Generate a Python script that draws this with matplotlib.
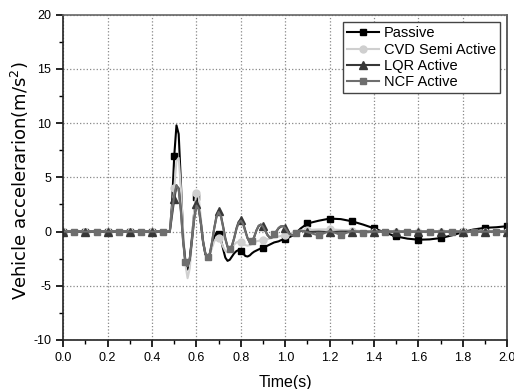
import numpy as np
import matplotlib
matplotlib.use('Agg')
import matplotlib.pyplot as plt
from matplotlib.ticker import MultipleLocator

plt.rcParams['font.family'] = ['Liberation Sans', 'DejaVu Sans']
plt.rcParams['axes.unicode_minus'] = False

# time grid: coarse before the bump, fine through the oscillation, coarse after
t_pre = [0.0, 0.05, 0.1, 0.15, 0.2, 0.25, 0.3, 0.35, 0.4, 0.45]
t_mid = [round(0.48 + 0.01 * i, 2) for i in range(63)]
t_post = [1.15, 1.2, 1.25, 1.3, 1.35, 1.4, 1.45, 1.5, 1.55, 1.6,
          1.65, 1.7, 1.75, 1.8, 1.85, 1.9, 1.95, 2.0]
time = np.array(t_pre + t_mid + t_post)

zeros_pre = [0, 0, 0, 0, 0, 0, 0, 0, 0, 0]

passive_mid = [0, 2.5, 7.0, 9.8, 9.0, 4.5, -0.5, -3.0, -3.5, -2.5,
               -0.5, 1.8, 3.2, 2.6, 0.8, -1.0, -2.1, -2.4, -2.1, -1.3,
               -0.5, -0.1, -0.2, -0.7, -1.6, -2.4, -2.7, -2.6, -2.3, -2.0,
               -1.8, -1.7, -1.75, -2.0, -2.25, -2.3, -2.2, -2.0, -1.85, -1.75,
               -1.65, -1.55, -1.5, -1.4, -1.3, -1.2, -1.1, -1.0, -0.95, -0.9,
               -0.8, -0.75, -0.7, -0.6, -0.5, -0.4, -0.25, -0.1, 0.1, 0.3,
               0.45, 0.6, 0.75]
passive_post = [1.0, 1.2, 1.15, 0.95, 0.65, 0.3, -0.1, -0.45, -0.65, -0.75,
                -0.72, -0.6, -0.35, -0.05, 0.2, 0.35, 0.4, 0.5]

cvd_mid = [0, 2.0, 4.0, 6.5, 6.8, 4.0, 0.0, -3.0, -4.3, -3.4,
           -0.8, 2.0, 3.6, 3.2, 1.2, -0.8, -2.0, -2.3, -2.1, -1.5,
           -0.9, -0.6, -0.6, -0.9, -1.4, -1.8, -1.9, -1.8, -1.5, -1.2,
           -1.0, -0.95, -1.0, -1.15, -1.25, -1.3, -1.25, -1.15, -1.0, -0.9,
           -0.85, -0.8, -0.8, -0.75, -0.7, -0.65, -0.6, -0.55, -0.5, -0.45,
           -0.4, -0.35, -0.3, -0.25, -0.2, -0.12, -0.05, 0.0, 0.05, 0.1,
           0.12, 0.15, 0.15]
cvd_post = [0.2, 0.2, 0.15, 0.1, 0.05, 0.0, 0.0, 0.0, 0.0, 0.0,
            0.0, 0.0, 0.0, 0.0, 0.0, 0.0, 0.0, 0.0]

lqr_mid = [0, 1.5, 3.0, 4.2, 4.0, 2.0, -0.8, -2.6, -3.2, -2.6,
           -0.8, 1.2, 2.5, 2.2, 0.8, -0.9, -2.0, -2.4, -2.1, -1.0,
           0.3, 1.4, 1.9, 1.5, 0.5, -0.6, -1.4, -1.6, -1.3, -0.6,
           0.3, 0.9, 1.1, 0.8, 0.1, -0.6, -1.0, -0.9, -0.5, 0.1,
           0.5, 0.65, 0.5, 0.1, -0.3, -0.55, -0.55, -0.3, 0.0, 0.3,
           0.45, 0.5, 0.35, 0.1, -0.2, -0.35, -0.35, -0.2, -0.05, 0.05,
           0.05, 0.0, -0.05]
lqr_post = [0.0, -0.05, 0.0, 0.0, 0.0, 0.0, 0.0, 0.0, 0.0, 0.0,
            0.0, 0.0, 0.0, 0.0, 0.0, 0.0, 0.0, 0.0]

ncf_mid = [0, 1.8, 3.4, 4.3, 3.9, 1.8, -1.0, -2.8, -3.2, -2.5,
           -0.7, 1.2, 2.4, 2.1, 0.7, -1.0, -2.0, -2.3, -2.0, -1.0,
           0.3, 1.3, 1.8, 1.4, 0.4, -0.7, -1.4, -1.6, -1.3, -0.6,
           0.2, 0.8, 1.0, 0.7, 0.0, -0.6, -1.0, -0.9, -0.5, 0.1,
           0.55, 0.65, 0.45, 0.05, -0.35, -0.55, -0.5, -0.25, 0.05, 0.35,
           0.5, 0.5, 0.3, 0.0, -0.25, -0.35, -0.3, -0.1, 0.05, 0.1,
           0.05, 0.0, -0.05]
ncf_post = [-0.35, 0.05, -0.3, 0.05, -0.1, 0.0, 0.0, 0.0, 0.0, 0.0,
            0.0, 0.0, 0.0, 0.0, 0.0, 0.0, 0.0, 0.0]

passive = np.array(zeros_pre + passive_mid + passive_post)
cvd = np.array(zeros_pre + cvd_mid + cvd_post)
lqr = np.array(zeros_pre + lqr_mid + lqr_post)
ncf = np.array(zeros_pre + ncf_mid + ncf_post)

# marker times
mark_a = [round(0.1 * k, 2) for k in range(21)]
mark_b = [round(0.05 + 0.1 * k, 2) for k in range(20)]


def idx(times):
    return [int(np.argmin(np.abs(time - m))) for m in times]


fig = plt.figure(figsize=(5.14, 3.89), dpi=100)
ax = fig.add_axes([0.123, 0.126, 0.864, 0.836])

ax.plot(time, passive, color='black', lw=1.5, marker='s', ms=5,
        markevery=idx(mark_a), label='Passive')
ax.plot(time, cvd, color='#cfcfcf', lw=1.5, marker='o', ms=5,
        markevery=idx(mark_a), label='CVD Semi Active')
ax.plot(time, lqr, color='#383838', lw=1.5, marker='^', ms=5.5,
        markevery=idx(mark_a), label='LQR Active')
ax.plot(time, ncf, color='#6e6e6e', lw=1.5, marker='s', ms=5,
        markevery=idx(mark_b), label='NCF Active')

ax.set_xlim(0, 2.0)
ax.set_ylim(-10, 20)
ax.xaxis.set_major_locator(MultipleLocator(0.2))
ax.xaxis.set_minor_locator(MultipleLocator(0.1))
ax.yaxis.set_major_locator(MultipleLocator(5))
ax.yaxis.set_minor_locator(MultipleLocator(2.5))
ax.xaxis.set_major_formatter(plt.FormatStrFormatter('%.1f'))
ax.tick_params(which='both', direction='out', labelsize=9, top=False, right=False)
ax.tick_params(which='major', length=5, width=1.2)
ax.tick_params(which='minor', length=3, width=1.0)
for s in ax.spines.values():
    s.set_linewidth(1.2)
    s.set_color('#222222')
ax.spines['top'].set_color('#666666')
ax.spines['right'].set_color('#444444')

ax.grid(True, which='major', color='#888888', linestyle=':', linewidth=0.9)

ax.set_xlabel('Time(s)', fontsize=11.5, labelpad=8)
ax.set_ylabel('Vehicle accelerarion(m/s$^2$)', fontsize=13,
              family=['DejaVu Sans'])
ax.yaxis.set_label_coords(-0.072, 0.49)

leg = ax.legend(loc='upper right', fontsize=10.5, fancybox=False, framealpha=1,
                edgecolor='#444444', borderpad=0.3, labelspacing=0.15,
                handlelength=2.2, handletextpad=0.3, borderaxespad=0.5)
leg.get_frame().set_linewidth(1.0)

fig.savefig('out.png', dpi=100)
